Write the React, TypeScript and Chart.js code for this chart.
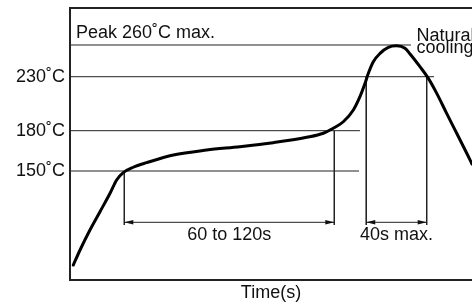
import React, { useEffect, useRef } from 'react';
import { Chart, LinearScale, registerables } from 'chart.js';

// ---- data (time in s, temperature in °C; schematic reflow profile) ----
const TIME_S = [2.2, 6.7, 13.3, 20, 26.7, 31.1, 35.5, 42.2, 51.1, 68.9, 91.1, 113.3, 135.5, 157.8, 168.9, 175.5, 182.2, 188.9, 193.3, 196.7, 198.9, 202.2, 206.7, 212.2, 217.8, 223.3, 226.7, 233.3, 238.9, 244.5, 251.1, 257.8, 264.5, 268];
const TEMP_C = [20.6, 41.3, 68.8, 94.0, 119.3, 137.6, 147.7, 152.8, 156.2, 161.9, 165.6, 168.1, 171.1, 175.1, 178.1, 182.2, 188.3, 199.2, 211.5, 223.9, 233.2, 244.2, 252.1, 257.8, 259.2, 256.9, 251.5, 239.5, 228.5, 214.6, 196.1, 178.1, 163.2, 155.2];

const TICK_TEMPS = [150, 180, 230];
const REF_TEMPS = [260, 230, 180, 150];
const REF_END_S = [227.3, 242.7, 193.3, 192.7];
const MARK_TIMES_S = [36.2, 176.2, 197.5, 237.8];
const MARK_TOP_C = [150, 180, 230, 230];
const MARK_BOTTOM_C = 75.7;
const ARROW_C = 79.4;
const SPAN_LABELS = ['60 to 120s', '40s max.'];
const PEAK_LABEL = 'Peak 260˚C max.';
const PEAK_LABEL_S = 4;
const COOLING_LABEL = ['Natural', 'cooling'];
const COOLING_LABEL_S = 231;
const X_MAX_S = 268;

// schematic (piecewise-linear) temperature axis
const TEMP_BREAKS = [0, 150, 180, 230, 260, 295];
const BREAK_FRACTIONS = [0, 0.4007, 0.5489, 0.7474, 0.864, 1];

function interp(v: number, xs: number[], ys: number[]) {
  if (v <= xs[0]) {
    return ys[0] + ((v - xs[0]) * (ys[1] - ys[0])) / (xs[1] - xs[0]);
  }
  for (let i = 1; i < xs.length; i++) {
    if (v <= xs[i] || i === xs.length - 1) {
      return ys[i - 1] + ((v - xs[i - 1]) * (ys[i] - ys[i - 1])) / (xs[i] - xs[i - 1]);
    }
  }
  return ys[ys.length - 1];
}

class ProfileScale extends LinearScale {
  static id = 'profile';
  static defaults = LinearScale.defaults;
  getPixelForValue(value: number) {
    if (value === null || value === undefined) return NaN;
    return this.getPixelForDecimal(interp(value, TEMP_BREAKS, BREAK_FRACTIONS));
  }
  getValueForPixel(pixel: number) {
    return interp(this.getDecimalForPixel(pixel), BREAK_FRACTIONS, TEMP_BREAKS);
  }
}

Chart.register(...registerables, ProfileScale);

const FONT = '"Liberation Sans", Arial, Helvetica, sans-serif';
const INK = '#111';
const LINE = '#222';

const annotate = {
  id: 'annotate',
  afterDatasetsDraw(chart: any) {
    const { ctx, chartArea, scales } = chart;
    const xs = scales.x;
    const ys = scales.y;
    ctx.save();
    // top frame line
    ctx.strokeStyle = LINE;
    ctx.lineWidth = 2;
    ctx.beginPath();
    ctx.moveTo(chartArea.left - 1, chartArea.top);
    ctx.lineTo(chart.width, chartArea.top);
    ctx.stroke();

    ctx.fillStyle = INK;
    ctx.font = `18px ${FONT}`;
    const ay = ys.getPixelForValue(ARROW_C);
    const head = (tip: number, y: number, dir: number) => {
      ctx.beginPath();
      ctx.moveTo(tip, y);
      ctx.lineTo(tip + dir * 9, y - 2.2);
      ctx.lineTo(tip + dir * 9, y + 2.2);
      ctx.closePath();
      ctx.fill();
    };
    ctx.textAlign = 'center';
    ctx.textBaseline = 'alphabetic';
    for (let i = 0; i < SPAN_LABELS.length; i++) {
      const x0 = xs.getPixelForValue(MARK_TIMES_S[2 * i]);
      const x1 = xs.getPixelForValue(MARK_TIMES_S[2 * i + 1]);
      head(x0, ay, 1);
      head(x1, ay, -1);
      ctx.fillText(SPAN_LABELS[i], (x0 + x1) / 2, ay + 17.5);
    }
    const py = ys.getPixelForValue(260);
    ctx.textAlign = 'left';
    ctx.fillText(PEAK_LABEL, xs.getPixelForValue(PEAK_LABEL_S), py - 6.7);
    const cx = xs.getPixelForValue(COOLING_LABEL_S);
    ctx.fillText(COOLING_LABEL[0], cx, py - 4.3);
    ctx.fillText(COOLING_LABEL[1], cx, py + 8.3);
    ctx.restore();
  },
};

export default function App() {
  const ref = useRef<HTMLCanvasElement | null>(null);
  useEffect(() => {
    if (!ref.current) return;
    const thin = { borderColor: LINE, borderWidth: 1, pointRadius: 0, tension: 0 };
    const datasets: any[] = [
      {
        data: TIME_S.map((t, i) => ({ x: t, y: TEMP_C[i] })),
        borderColor: '#000',
        borderWidth: 3,
        pointRadius: 0,
        cubicInterpolationMode: 'monotone',
        borderCapStyle: 'round',
      },
    ];
    REF_TEMPS.forEach((temp, i) =>
      datasets.push({ ...thin, data: [{ x: 0, y: temp }, { x: REF_END_S[i], y: temp }] })
    );
    MARK_TIMES_S.forEach((t, i) =>
      datasets.push({ ...thin, data: [{ x: t, y: MARK_TOP_C[i] }, { x: t, y: MARK_BOTTOM_C }] })
    );
    for (let i = 0; i < 2; i++) {
      datasets.push({
        ...thin,
        data: [
          { x: MARK_TIMES_S[2 * i], y: ARROW_C },
          { x: MARK_TIMES_S[2 * i + 1], y: ARROW_C },
        ],
      });
    }
    const chart = new Chart(ref.current, {
      type: 'line',
      data: { datasets },
      plugins: [annotate],
      options: {
        animation: false,
        responsive: false,
        devicePixelRatio: 1,
        layout: { padding: { left: 0, right: 0, top: 8, bottom: 0 } },
        plugins: { legend: { display: false }, tooltip: { enabled: false } },
        scales: {
          x: {
            type: 'linear',
            position: 'bottom',
            min: 0,
            max: X_MAX_S,
            ticks: { display: false },
            grid: { display: false, drawTicks: false },
            border: { display: true, color: LINE, width: 2 },
            title: {
              display: true,
              text: 'Time(s)',
              color: INK,
              font: { family: FONT, size: 18 },
              padding: { top: 0, bottom: 0 },
            },
            afterFit: (s: any) => {
              s.height = 24;
              s.paddingLeft = 0;
              s.paddingRight = 0;
            },
          },
          y: {
            type: 'profile',
            position: 'left',
            min: 0,
            max: 295,
            afterBuildTicks: (s: any) => {
              s.ticks = TICK_TEMPS.map((v) => ({ value: v }));
            },
            ticks: {
              padding: 5,
              color: INK,
              font: { family: FONT, size: 18 },
              callback: (v: any) => `${v}˚C`,
            },
            grid: { display: false, drawTicks: false },
            border: { display: true, color: LINE, width: 2 },
            afterFit: (s: any) => {
              s.width = 70;
              s.paddingTop = 0;
              s.paddingBottom = 0;
            },
          },
        } as any,
      },
    } as any);
    return () => chart.destroy();
  }, []);
  return (
    <div style={{ position: 'absolute', left: 0, top: 0, width: 472, height: 304, overflow: 'hidden', background: '#fff' }}>
      <canvas ref={ref} width={472} height={304} style={{ display: 'block' }} />
    </div>
  );
}
